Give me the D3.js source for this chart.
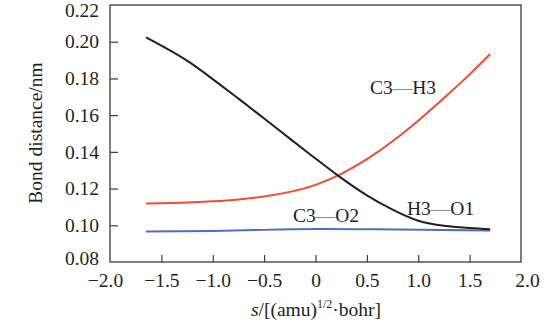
<!DOCTYPE html>
<html>
<head>
<meta charset="utf-8">
<script src="https://cdn.jsdelivr.net/npm/d3@7"></script>
<style>
  html, body { margin: 0; padding: 0; background: #fff; }
  svg { display: block; }
  text { font-family: "Liberation Serif", "Times New Roman", serif; fill: #231f20; }
</style>
</head>
<body>
<svg id="chart" width="551" height="322"></svg>
<script>
// Reaction coordinate s (amu^1/2 bohr) and bond distances (nm)
const sH3O1 = [-1.65, -1.5, -1.25, -1.0, -0.75, -0.5, -0.25, 0, 0.25, 0.5, 0.75, 1.0, 1.25, 1.5, 1.7];
const dH3O1 = [0.2024, 0.1979, 0.1897, 0.1796, 0.1690, 0.1582, 0.1472, 0.1364, 0.1258, 0.1163, 0.1085, 0.1025, 0.0998, 0.0985, 0.0978];

const sC3H3 = [-1.65, -1.5, -1.25, -1.0, -0.75, -0.5, -0.25, 0, 0.25, 0.5, 0.75, 1.0, 1.25, 1.5, 1.7];
const dC3H3 = [0.1118, 0.1120, 0.1124, 0.1131, 0.1141, 0.1157, 0.1182, 0.1220, 0.1280, 0.1360, 0.1458, 0.1570, 0.1693, 0.1822, 0.1933];

const sC3O2 = [-1.65, -1.0, -0.5, 0, 0.5, 1.0, 1.7];
const dC3O2 = [0.0966, 0.0969, 0.0975, 0.0980, 0.0979, 0.0976, 0.0972];

const xTicks = [-2.0, -1.5, -1.0, -0.5, 0, 0.5, 1.0, 1.5, 2.0];
const xTickLabels = ["\u22122.0", "\u22121.5", "\u22121.0", "\u22120.5", "0", "0.5", "1.0", "1.5", "2.0"];
const yTicks = [0.08, 0.10, 0.12, 0.14, 0.16, 0.18, 0.20, 0.22];

const svg = d3.select("#chart");
const plotLeft = 110, plotRight = 521, plotTop = 5, plotBottom = 262;
const fontSize = 19.5;
const serif = "Liberation Serif, Times New Roman, serif";

const x = d3.scaleLinear().domain([-2, 2]).range([plotLeft, plotRight]);
const y = d3.scaleLinear().domain([0.08, 0.22]).range([plotBottom, plotTop]);

// frame
svg.append("rect")
  .attr("x", plotLeft).attr("y", plotTop)
  .attr("width", plotRight - plotLeft).attr("height", plotBottom - plotTop)
  .attr("fill", "none").attr("stroke", "#3a3a3a").attr("stroke-width", 1.3);

// axes with inward ticks
const xAxis = d3.axisBottom(x).tickValues(xTicks)
  .tickSizeInner(-7).tickSizeOuter(0).tickPadding(11)
  .tickFormat((d, i) => xTickLabels[i]);
const gx = svg.append("g").attr("transform", `translate(0,${plotBottom})`).call(xAxis);

const yAxis = d3.axisLeft(y).tickValues(yTicks)
  .tickSizeInner(-8).tickSizeOuter(0).tickPadding(11)
  .tickFormat(d3.format(".2f"));
const gy = svg.append("g").attr("transform", `translate(${plotLeft},0)`).call(yAxis);

[gx, gy].forEach(g => {
  g.attr("font-family", serif);
  g.select(".domain").remove();
  g.selectAll(".tick line").attr("stroke", "#3a3a3a").attr("stroke-width", 1.2);
  g.selectAll(".tick text")
    .attr("font-family", serif)
    .attr("font-size", fontSize).attr("fill", "#231f20");
});
gx.selectAll(".tick text").attr("dy", "0.71em");
// end labels nudged off the frame corners
gx.selectAll(".tick text").filter(d => d === -2).attr("dx", -5);
gx.selectAll(".tick text").filter(d => d === 2).attr("dx", 6);
gy.selectAll(".tick text").filter(d => Math.abs(d - 0.22) < 1e-9).attr("transform", "translate(0,5)");
gy.selectAll(".tick text").filter(d => Math.abs(d - 0.08) < 1e-9).attr("transform", "translate(0,-4)");
// no tick marks at the frame corners
gx.selectAll(".tick line").filter(d => d === -2 || d === 2).remove();
gy.selectAll(".tick line").filter(d => Math.abs(d - 0.08) < 1e-9 || Math.abs(d - 0.22) < 1e-9).remove();

// axis titles
const xt = svg.append("text")
  .attr("x", 316).attr("y", 316)
  .attr("text-anchor", "middle").attr("font-size", fontSize).attr("font-family", serif);
xt.append("tspan").attr("font-style", "italic").text("s");
xt.append("tspan").text("/[(amu)");
xt.append("tspan").attr("font-size", 12).attr("dy", -8).text("1/2");
xt.append("tspan").attr("dy", 8).text("\u00b7bohr]");

svg.append("text")
  .attr("transform", "translate(42,133) rotate(-90)")
  .attr("text-anchor", "middle").attr("font-size", fontSize).attr("font-family", serif)
  .text("Bond distance/nm");

// curves
const line = d3.line().x(d => x(d[0])).y(d => y(d[1])).curve(d3.curveNatural);
const series = [
  { s: sC3O2, d: dC3O2, color: "#4a70bf", w: 2.0 },
  { s: sC3H3, d: dC3H3, color: "#ef4d2e", w: 2.0 },
  { s: sH3O1, d: dH3O1, color: "#231f20", w: 2.0 }
];
series.forEach(ser => {
  svg.append("path")
    .datum(d3.zip(ser.s, ser.d))
    .attr("d", line)
    .attr("fill", "none")
    .attr("stroke", ser.color)
    .attr("stroke-width", ser.w);
});

// bond labels with grey dashes
function bondLabel(px, py, a, b) {
  const t = svg.append("text").attr("x", px).attr("y", py)
    .attr("font-size", fontSize).attr("font-family", serif);
  t.append("tspan").text(a);
  t.append("tspan").attr("fill", "#8c8c8c").text("\u2014");
  t.append("tspan").text(b);
}
bondLabel(370, 94, "C3", "H3");
bondLabel(407, 215, "H3", "O1");
bondLabel(293, 222, "C3", "O2");
</script>
</body>
</html>
